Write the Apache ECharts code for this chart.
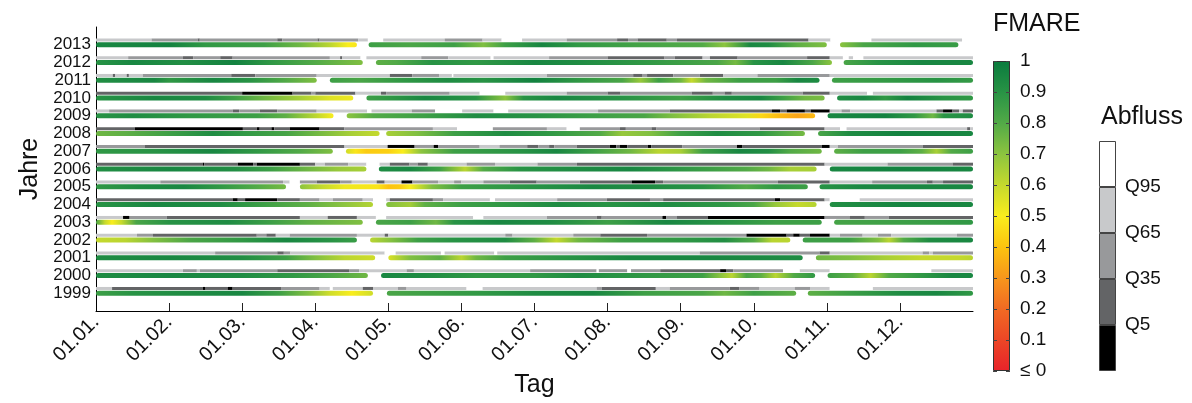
<!DOCTYPE html>
<html>
<head>
<meta charset="utf-8">
<script src="https://cdn.jsdelivr.net/npm/echarts@6/dist/echarts.min.js"></script>
<style>
  html, body { margin: 0; padding: 0; background: #fff; }
  #chart { width: 1192px; height: 403px; }
</style>
</head>
<body>
<div id="chart"></div>
<script>
// x-Werte in Monaten ab 01.01. (0 = 01.01., 12 = Jahresende)
const years = [1999, 2000, 2001, 2002, 2003, 2004, 2005, 2006, 2007, 2008, 2009, 2010, 2011, 2012, 2013];
const monthLabels = ['01.01.', '01.02.', '01.03.', '01.04.', '01.05.', '01.06.', '01.07.', '01.08.', '01.09.', '01.10.', '01.11.', '01.12.'];
const abflussLabels = ['Q5', 'Q35', 'Q65', 'Q95'];
const abflussColors = ['#000000', '#636466', '#98999b', '#c8c9cb', '#ffffff'];
const fmareStops = [[0, '#e8232a'], [0.1, '#ec4626'], [0.2, '#f16a23'], [0.3, '#f7961c'], [0.4, '#fcc30f'],
  [0.5, '#f9ed1d'], [0.6, '#c5d92d'], [0.7, '#8cc43f'], [0.8, '#52aa47'], [0.9, '#289345'], [1, '#0a7b3e']];

// FMARE: je Jahr Abschnitte aus [Monat, Wert]
const fmare1999 = [
  [[0, 0.85], [0.5, 0.9], [1.2, 0.93], [2.0, 0.95], [2.5, 0.85], [2.9, 0.72], [3.2, 0.58], [3.5, 0.5], [3.79, 0.58]],
  [[3.98, 0.82], [4.6, 0.85], [5.3, 0.88], [6.0, 0.93], [6.8, 0.95], [7.5, 0.85], [8.3, 0.82], [8.6, 0.75], [9.0, 0.85], [9.58, 0.78]],
  [[9.74, 0.78], [10.3, 0.85], [11.0, 0.93], [11.5, 0.95], [12.0, 0.88]]
];
const fmare2000 = [
  [[0, 0.93], [1.0, 0.95], [2.0, 0.93], [2.7, 0.88], [3.2, 0.82], [3.72, 0.75]],
  [[3.9, 0.95], [4.5, 0.93], [5.2, 0.88], [6.0, 0.88], [6.6, 0.93], [7.5, 0.88], [8.3, 0.85], [8.55, 0.7], [8.7, 0.62], [8.9, 0.82], [9.1, 0.78], [9.3, 0.62], [9.55, 0.8], [9.84, 0.88]],
  [[10.01, 0.85], [10.35, 0.78], [10.6, 0.62], [10.85, 0.8], [11.3, 0.88], [11.7, 0.95], [12.0, 0.95]]
];
const fmare2001 = [
  [[0, 0.93], [1.0, 0.95], [2.0, 0.92], [2.6, 0.85], [3.0, 0.72], [3.4, 0.62], [3.82, 0.58]],
  [[4.0, 0.56], [4.3, 0.72], [4.7, 0.78], [5.0, 0.62], [5.2, 0.75], [5.6, 0.85], [6.5, 0.9], [7.3, 0.95], [8.5, 0.95], [9.67, 0.93]],
  [[9.85, 0.75], [10.3, 0.72], [10.8, 0.65], [11.3, 0.6], [11.8, 0.6], [12.0, 0.62]]
];
const fmare2002 = [
  [[0, 0.6], [0.4, 0.62], [0.8, 0.72], [1.3, 0.82], [2.0, 0.88], [2.6, 0.95], [3.2, 0.9], [3.57, 0.86]],
  [[3.75, 0.62], [4.0, 0.7], [4.4, 0.85], [4.9, 0.9], [5.6, 0.93], [6.0, 0.78], [6.3, 0.6], [6.6, 0.75], [7.2, 0.85], [8.0, 0.88], [8.6, 0.92], [9.0, 0.8], [9.25, 0.62], [9.5, 0.62]],
  [[9.67, 0.85], [10.3, 0.85], [10.7, 0.72], [10.85, 0.62], [11.05, 0.8], [11.4, 0.93], [12.0, 0.95]]
];
const fmare2003 = [
  [[0, 0.82], [0.12, 0.6], [0.22, 0.5], [0.35, 0.6], [0.55, 0.82], [1.0, 0.9], [1.8, 0.93], [2.4, 0.85], [2.9, 0.78], [3.65, 0.72]],
  [[3.83, 0.82], [4.3, 0.85], [4.65, 0.75], [4.9, 0.9], [5.5, 0.95], [6.2, 0.93], [7.0, 0.85], [7.8, 0.95], [8.6, 0.9], [9.3, 0.85], [9.93, 0.85]],
  [[10.1, 0.83], [11.0, 0.85], [12.0, 0.88]]
];
const fmare2004 = [
  [[0, 0.9], [0.8, 0.95], [1.7, 0.93], [2.3, 0.85], [2.9, 0.78], [3.4, 0.7], [3.79, 0.63]],
  [[3.97, 0.72], [4.3, 0.66], [4.5, 0.78], [5.0, 0.85], [5.6, 0.88], [6.3, 0.93], [7.0, 0.9], [7.8, 0.93], [8.6, 0.88], [9.0, 0.82], [9.3, 0.68], [9.6, 0.6], [9.86, 0.63]],
  [[10.04, 0.92], [11.0, 0.96], [12.0, 0.95]]
];
const fmare2005 = [
  [[0, 0.88], [0.6, 0.93], [1.2, 0.95], [1.7, 0.88], [2.2, 0.8], [2.6, 0.74]],
  [[2.79, 0.7], [3.1, 0.6], [3.4, 0.52], [3.85, 0.48], [4.0, 0.4], [4.15, 0.42], [4.3, 0.5], [4.6, 0.72], [5.0, 0.85], [6.0, 0.9], [6.8, 0.95], [7.6, 0.93], [8.3, 0.9], [8.9, 0.8], [9.3, 0.88], [9.74, 0.85]],
  [[9.9, 0.9], [10.5, 0.95], [12.0, 0.95]]
];
const fmare2006 = [
  [[0, 0.92], [1.0, 0.95], [1.9, 0.92], [2.4, 0.85], [2.9, 0.75], [3.3, 0.68], [3.7, 0.65]],
  [[3.87, 0.93], [4.3, 0.95], [4.7, 0.85], [5.05, 0.62], [5.3, 0.8], [5.8, 0.9], [6.5, 0.93], [7.3, 0.95], [7.8, 0.9], [8.4, 0.85], [8.9, 0.8], [9.2, 0.75], [9.5, 0.65], [9.86, 0.65]],
  [[10.04, 0.95], [11.0, 0.97], [12.0, 0.95]]
];
const fmare2007 = [
  [[0, 0.88], [0.8, 0.9], [1.6, 0.95], [2.2, 0.88], [2.8, 0.8], [3.24, 0.72]],
  [[3.42, 0.58], [3.55, 0.48], [3.7, 0.42], [4.0, 0.43], [4.2, 0.5], [4.45, 0.7], [4.9, 0.85], [5.8, 0.9], [6.3, 0.95], [6.8, 0.85], [7.3, 0.75], [7.7, 0.62], [8.0, 0.65], [8.3, 0.85], [8.8, 0.95], [9.2, 0.92], [9.5, 0.8], [9.93, 0.75]],
  [[10.1, 0.78], [10.5, 0.85], [11.0, 0.85], [11.3, 0.78], [11.5, 0.65], [11.7, 0.8], [12.0, 0.85]]
];
const fmare2008 = [
  [[0, 0.75], [0.4, 0.78], [1.0, 0.85], [1.6, 0.93], [2.0, 0.88], [2.6, 0.83], [3.0, 0.75], [3.5, 0.65], [3.88, 0.6]],
  [[3.97, 0.65], [4.4, 0.72], [4.9, 0.85], [5.6, 0.93], [6.2, 0.88], [6.9, 0.8], [7.2, 0.68], [7.6, 0.72], [8.0, 0.85], [8.5, 0.93], [9.1, 0.88], [9.4, 0.8], [9.7, 0.74]],
  [[9.88, 0.82], [10.3, 0.93], [11.0, 0.97], [12.0, 0.95]]
];
const fmare2009 = [
  [[0, 0.9], [0.5, 0.93], [1.3, 0.88], [2.2, 0.85], [2.6, 0.78], [3.0, 0.62], [3.25, 0.5]],
  [[3.43, 0.7], [3.8, 0.8], [4.5, 0.85], [5.2, 0.93], [6.0, 0.9], [6.8, 0.85], [7.5, 0.82], [7.9, 0.72], [8.4, 0.62], [8.9, 0.55], [9.1, 0.45], [9.35, 0.38], [9.6, 0.33], [9.84, 0.38]],
  [[10.01, 0.95], [10.8, 0.97], [11.2, 0.88], [11.45, 0.75], [11.6, 0.9], [12.0, 0.93]]
];
const fmare2010 = [
  [[0, 0.9], [0.8, 0.95], [1.5, 0.93], [1.9, 0.85], [2.3, 0.75], [2.8, 0.65], [3.2, 0.55], [3.52, 0.52]],
  [[3.7, 0.85], [4.0, 0.88], [4.5, 0.95], [5.2, 0.9], [5.6, 0.7], [5.85, 0.9], [6.3, 0.95], [7.2, 0.9], [8.0, 0.85], [8.6, 0.93], [9.1, 0.95], [9.4, 0.85], [9.7, 0.75], [9.97, 0.73]],
  [[10.14, 0.92], [10.5, 0.95], [10.8, 0.88], [11.1, 0.97], [11.6, 0.9], [12.0, 0.88]]
];
const fmare2011 = [
  [[0, 0.92], [0.8, 0.95], [1.0, 0.88], [1.6, 0.95], [2.1, 0.9], [2.6, 0.8], [3.02, 0.72]],
  [[3.2, 0.85], [3.6, 0.82], [4.2, 0.88], [4.8, 0.93], [5.3, 0.9], [6.0, 0.97], [6.6, 0.88], [7.2, 0.82], [7.45, 0.68], [7.7, 0.85], [8.0, 0.75], [8.15, 0.6], [8.35, 0.75], [8.8, 0.85], [9.3, 0.85], [9.6, 0.95], [9.9, 0.93]],
  [[10.07, 0.85], [11.0, 0.88], [11.5, 0.9], [12.0, 0.87]]
];
const fmare2012 = [
  [[0, 0.9], [0.5, 0.95], [1.2, 0.92], [1.9, 0.97], [2.4, 0.88], [3.0, 0.8], [3.65, 0.72]],
  [[3.83, 0.78], [4.1, 0.8], [4.6, 0.9], [5.2, 0.88], [6.0, 0.95], [6.6, 0.93], [7.5, 0.88], [8.5, 0.82], [8.75, 0.74], [9.0, 0.9], [9.4, 0.95], [9.8, 0.82], [10.07, 0.7]],
  [[10.23, 0.82], [10.7, 0.9], [11.3, 0.95], [12.0, 0.95]]
];
const fmare2013 = [
  [[0, 0.95], [1.0, 0.97], [1.5, 0.88], [2.3, 0.85], [2.8, 0.75], [3.2, 0.62], [3.45, 0.5], [3.57, 0.48]],
  [[3.73, 0.85], [4.3, 0.82], [4.9, 0.85], [5.3, 0.72], [5.6, 0.85], [6.1, 0.96], [6.6, 0.88], [7.5, 0.83], [8.3, 0.8], [8.6, 0.7], [8.95, 0.95], [9.2, 0.93], [9.6, 0.78], [10.0, 0.72]],
  [[10.18, 0.7], [10.5, 0.82], [11.2, 0.88], [11.8, 0.86]]
];

// Abfluss: je Jahr [Beginn, Klasse] (0 = <Q5 ... 4 = >Q95), letzter Eintrag = Ende
const abfluss1999 = [[0, 3], [0.22, 1], [1.46, 0], [1.5, 1], [1.8, 0], [1.87, 1], [2.54, 2], [3.06, 3], [3.2, 4], [3.24, 3], [3.65, 1], [3.79, 3], [4.13, 2], [4.25, 3], [5.07, 4], [5.29, 3], [6.85, 2], [6.92, 1], [7.66, 3], [7.85, 2], [8.67, 1], [8.8, 2], [9.08, 3], [9.56, 2], [9.77, 3], [10.04, 4], [10.63, 3], [12]];
const abfluss2000 = [[0, 3], [1.19, 2], [1.38, 3], [1.42, 2], [2.48, 1], [3.47, 2], [3.6, 3], [4.25, 2], [4.35, 3], [5.94, 2], [6.85, 4], [6.88, 2], [7.27, 4], [7.32, 2], [7.72, 1], [8.54, 0], [8.62, 1], [8.72, 2], [9.4, 4], [9.63, 3], [10.04, 4], [11.43, 3], [12]];
const abfluss2001 = [[0, 3], [1.63, 2], [2.48, 1], [2.57, 2], [2.66, 3], [3.95, 4], [4.1, 3], [4.72, 4], [4.77, 3], [5.45, 4], [5.49, 3], [8.26, 2], [9.9, 1], [10.04, 3], [11.31, 2], [11.4, 3], [11.45, 2], [12]];
const abfluss2002 = [[0, 3], [0.56, 2], [0.78, 1], [2.2, 2], [2.33, 1], [2.46, 3], [2.65, 2], [3.57, 3], [3.95, 1], [4.0, 3], [5.6, 2], [5.7, 3], [6.53, 2], [6.9, 1], [7.54, 2], [8.9, 0], [9.45, 1], [9.54, 0], [9.63, 1], [9.77, 0], [10.04, 3], [10.18, 2], [10.49, 3], [10.7, 2], [10.88, 3], [11.78, 2], [12]];
const abfluss2003 = [[0, 3], [0.37, 0], [0.46, 2], [0.97, 1], [2.79, 3], [3.17, 1], [3.57, 3], [3.83, 4], [3.97, 3], [5.16, 4], [5.3, 3], [6.17, 2], [6.85, 1], [6.92, 2], [7.75, 0], [7.8, 2], [7.95, 1], [8.37, 0], [9.97, 2], [10.31, 1], [10.52, 2], [10.85, 1], [12]];
const abfluss2004 = [[0, 1], [1.87, 0], [1.94, 1], [2.04, 0], [2.48, 1], [2.79, 2], [3.06, 3], [3.24, 2], [3.65, 3], [3.79, 4], [3.97, 3], [4.02, 1], [4.61, 2], [4.75, 3], [5.39, 4], [5.46, 3], [6.31, 2], [6.99, 1], [7.58, 2], [7.76, 1], [9.29, 0], [9.36, 1], [9.97, 3], [10.04, 4], [10.45, 3], [12]];
const abfluss2005 = [[0, 3], [0.88, 2], [2.56, 3], [2.65, 4], [2.79, 2], [3.02, 1], [3.34, 2], [3.5, 3], [3.84, 1], [3.95, 3], [4.18, 0], [4.33, 2], [4.68, 3], [4.9, 2], [5.0, 3], [5.3, 2], [5.66, 1], [6.03, 2], [6.62, 1], [7.33, 0], [7.65, 1], [7.76, 2], [9.33, 1], [10.04, 3], [10.62, 2], [11.37, 1], [11.45, 2], [11.59, 1], [12]];
const abfluss2006 = [[0, 1], [1.46, 0], [1.48, 1], [1.94, 0], [2.15, 1], [2.2, 0], [2.79, 1], [3.0, 3], [3.13, 2], [3.45, 3], [3.7, 4], [3.88, 3], [4.02, 1], [4.29, 2], [4.4, 1], [4.54, 3], [5.07, 2], [5.46, 3], [6.04, 2], [6.58, 1], [9.97, 3], [10.83, 2], [11.72, 1], [12]];
const abfluss2007 = [[0, 2], [0.67, 1], [3.4, 3], [3.99, 0], [4.36, 2], [4.62, 0], [4.68, 2], [5.25, 3], [5.52, 2], [5.9, 1], [6.05, 2], [6.2, 1], [6.27, 2], [6.58, 1], [7.03, 0], [7.12, 1], [7.17, 0], [7.27, 1], [7.55, 0], [7.6, 1], [8.02, 2], [8.77, 0], [8.84, 1], [9.93, 0], [10.04, 3], [10.15, 2], [11.31, 1], [12]];
const abfluss2008 = [[0, 1], [0.53, 0], [2.01, 1], [2.2, 0], [2.24, 1], [2.4, 0], [2.44, 1], [2.65, 0], [3.06, 1], [3.4, 2], [4.61, 3], [4.94, 4], [5.43, 2], [6.17, 3], [6.44, 4], [6.62, 2], [7.17, 1], [7.25, 2], [7.6, 1], [7.67, 2], [9.08, 1], [9.97, 3], [10.18, 4], [10.27, 3], [11.92, 1], [11.96, 3], [12]];
const abfluss2009 = [[0, 3], [0.18, 2], [1.87, 1], [1.96, 2], [2.24, 1], [2.48, 2], [3.02, 3], [3.71, 4], [3.77, 3], [4.32, 2], [4.64, 4], [5.01, 3], [5.44, 4], [5.64, 3], [6.87, 2], [7.85, 1], [9.25, 0], [9.36, 1], [9.45, 0], [9.7, 1], [9.78, 0], [10.04, 3], [10.2, 2], [10.32, 3], [11.5, 1], [11.59, 0], [11.72, 1], [11.81, 3], [11.86, 1], [12]];
const abfluss2010 = [[0, 1], [2.0, 0], [2.69, 1], [2.95, 2], [3.0, 1], [3.55, 3], [3.9, 1], [3.97, 2], [4.84, 3], [5.25, 4], [5.6, 3], [6.44, 2], [7.0, 1], [7.17, 2], [8.15, 1], [8.44, 2], [8.6, 1], [8.7, 2], [9.67, 1], [10.04, 3], [10.55, 4], [10.63, 3], [12]];
const abfluss2011 = [[0, 3], [0.23, 1], [0.26, 3], [0.42, 1], [0.45, 3], [0.64, 2], [1.85, 1], [2.18, 2], [3.02, 3], [4.02, 1], [4.33, 2], [4.7, 3], [4.87, 4], [4.89, 3], [6.17, 2], [7.35, 1], [7.48, 2], [7.54, 1], [7.9, 2], [8.26, 1], [8.58, 3], [9.05, 2], [10.04, 3], [12]];
const abfluss2012 = [[0, 3], [0.44, 2], [1.19, 1], [1.33, 2], [1.7, 1], [1.87, 2], [3.2, 3], [3.34, 1], [3.37, 3], [3.62, 4], [3.7, 3], [4.45, 2], [4.82, 3], [5.4, 4], [5.44, 3], [6.2, 2], [7.0, 1], [7.78, 2], [7.92, 1], [8.3, 3], [8.4, 1], [8.78, 2], [9.73, 1], [10.04, 3], [10.22, 4], [10.3, 3], [10.36, 4], [10.5, 3], [12]];
const abfluss2013 = [[0, 3], [0.76, 2], [1.39, 1], [1.42, 2], [2.48, 1], [2.55, 2], [3.03, 1], [3.06, 2], [3.59, 3], [3.72, 4], [3.93, 3], [4.77, 2], [5.29, 3], [5.55, 4], [5.83, 3], [6.44, 2], [7.13, 1], [7.28, 2], [7.41, 1], [7.81, 2], [7.95, 1], [9.75, 3], [10.05, 4], [10.61, 3], [11.85]];

const fmareRows = [fmare1999, fmare2000, fmare2001, fmare2002, fmare2003, fmare2004, fmare2005, fmare2006, fmare2007, fmare2008, fmare2009, fmare2010, fmare2011, fmare2012, fmare2013];
const abflussRows = [abfluss1999, abfluss2000, abfluss2001, abfluss2002, abfluss2003, abfluss2004, abfluss2005, abfluss2006, abfluss2007, abfluss2008, abfluss2009, abfluss2010, abfluss2011, abfluss2012, abfluss2013];

function hexToRgb(h) {
  return [parseInt(h.slice(1, 3), 16), parseInt(h.slice(3, 5), 16), parseInt(h.slice(5, 7), 16)];
}
function fmareColor(v) {
  v = Math.max(0, Math.min(1, v));
  for (let i = 1; i < fmareStops.length; i++) {
    if (v <= fmareStops[i][0]) {
      const a = hexToRgb(fmareStops[i - 1][1]), b = hexToRgb(fmareStops[i][1]);
      const t = (v - fmareStops[i - 1][0]) / (fmareStops[i][0] - fmareStops[i - 1][0]);
      return 'rgb(' + a.map((c, k) => Math.round(c + (b[k] - c) * t)).join(',') + ')';
    }
  }
  return fmareStops[fmareStops.length - 1][1];
}

// Datenpunkte für die Serien aufbauen
const fmareSegs = [];
const abflussRuns = [];
years.forEach((yr, i) => {
  fmareRows[i].forEach(seg => fmareSegs.push({ year: yr, pts: seg }));
  const r = abflussRows[i];
  for (let k = 0; k < r.length - 1; k++) abflussRuns.push([r[k][0], yr, r[k + 1][0], r[k][1]]);
});

const chart = echarts.init(document.getElementById('chart'));
const txt = '#111';

const option = {
  animation: false,
  textStyle: { fontFamily: 'Liberation Sans, Arial, sans-serif' },
  title: [
    { text: 'FMARE', left: 993, top: 12, padding: 0, textStyle: { fontSize: 25, fontWeight: 'normal', color: txt } },
    { text: 'Abfluss', left: 1101, top: 105, padding: 0, textStyle: { fontSize: 25, fontWeight: 'normal', color: txt } }
  ],
  grid: [
    { left: 96, top: 27, width: 877, height: 284, outerBoundsMode: 'none' },
    { left: 993, top: 61, width: 17, height: 310, outerBoundsMode: 'none' },
    { left: 1099, top: 141, width: 17, height: 230, outerBoundsMode: 'none' }
  ],
  xAxis: [
    {
      gridIndex: 0, type: 'value', min: 0, max: 12, interval: 1,
      name: 'Tag', nameLocation: 'middle', nameGap: 62,
      nameTextStyle: { fontSize: 25, color: txt },
      axisLine: { lineStyle: { color: '#000', width: 1 } },
      axisTick: { inside: true, length: 8, lineStyle: { color: '#222' }, customValues: [1, 2, 3, 4, 5, 6, 7, 8, 9, 10, 11] },
      splitLine: { show: false },
      axisLabel: {
        rotate: 45, fontSize: 20, color: txt, margin: 8,
        customValues: [0, 1, 2, 3, 4, 5, 6, 7, 8, 9, 10, 11],
        formatter: v => monthLabels[Math.round(v)] || ''
      }
    },
    { gridIndex: 1, type: 'category', data: ['FMARE'], show: false },
    { gridIndex: 2, type: 'category', data: ['Abfluss'], show: false }
  ],
  yAxis: [
    {
      gridIndex: 0, type: 'value', min: 1998, max: 2014, interval: 1,
      name: 'Jahre', nameLocation: 'middle', nameGap: 50,
      nameTextStyle: { fontSize: 25, color: txt },
      axisLine: { show: true, lineStyle: { color: '#000', width: 1 } },
      axisTick: { show: false },
      splitLine: { show: false },
      axisLabel: { fontSize: 17, color: txt, margin: 5, formatter: v => (v > 1998 && v < 2014) ? String(v) : '' }
    },
    {
      gridIndex: 1, type: 'value', min: 0, max: 1, interval: 0.1, position: 'left', z: 5,
      axisLine: { show: false }, splitLine: { show: false }, axisLabel: { show: false },
      axisTick: { show: true, inside: true, length: 4, lineStyle: { color: '#444' } }
    },
    {
      gridIndex: 1, type: 'value', min: 0, max: 1, interval: 0.1, position: 'right', z: 5,
      axisLine: { show: false }, splitLine: { show: false },
      axisTick: { show: true, inside: true, length: 4, lineStyle: { color: '#444' } },
      axisLabel: {
        fontSize: 19, color: txt, margin: 10,
        formatter: v => {
          const r = Math.round(v * 10) / 10;
          return r === 0 ? '≤ 0' : (r === 1 ? '1' : r.toFixed(1));
        }
      }
    },
    {
      gridIndex: 2, type: 'value', min: 0, max: 5, interval: 1, position: 'right',
      axisLine: { show: false }, axisTick: { show: false }, splitLine: { show: false },
      axisLabel: {
        fontSize: 19, color: txt, margin: 9, padding: [7, 0, 0, 0],
        formatter: v => abflussLabels[v - 1] || ''
      }
    }
  ],
  series: [
    {
      name: 'Abfluss', type: 'custom', xAxisIndex: 0, yAxisIndex: 0,
      encode: { x: [0, 2], y: 1 }, clip: false,
      data: abflussRuns,
      renderItem: (params, api) => {
        const p0 = api.coord([api.value(0), api.value(1)]);
        const p1 = api.coord([api.value(2), api.value(1)]);
        return {
          type: 'rect',
          shape: { x: p0[0], y: p0[1] - 6.3, width: p1[0] - p0[0], height: 3 },
          style: { fill: abflussColors[api.value(3)] }
        };
      }
    },
    {
      name: 'FMARE', type: 'custom', xAxisIndex: 0, yAxisIndex: 0,
      encode: { x: [0, 2], y: 1 }, clip: false,
      data: fmareSegs.map(s => [s.pts[0][0], s.year, s.pts[s.pts.length - 1][0]]),
      renderItem: (params, api) => {
        const pts = fmareSegs[params.dataIndex].pts;
        const x0 = pts[0][0], x1 = pts[pts.length - 1][0];
        const p0 = api.coord([x0, api.value(1)]);
        const p1 = api.coord([x1, api.value(1)]);
        const stops = pts.map(d => ({ offset: (d[0] - x0) / (x1 - x0), color: fmareColor(d[1]) }));
        return {
          type: 'rect',
          shape: { x: p0[0], y: p0[1] - 2.5, width: p1[0] - p0[0], height: 5, r: 2.5 },
          style: { fill: new echarts.graphic.LinearGradient(0, 0, 1, 0, stops) }
        };
      }
    },
    {
      name: 'Farbskala', type: 'bar', xAxisIndex: 1, yAxisIndex: 1,
      barWidth: '100%', data: [1],
      itemStyle: {
        borderColor: '#333', borderWidth: 1,
        color: new echarts.graphic.LinearGradient(0, 1, 0, 0, fmareStops.map(s => ({ offset: s[0], color: s[1] })))
      }
    }
  ].concat(abflussColors.map((c, i) => ({
    name: 'Klasse' + i, type: 'bar', xAxisIndex: 2, yAxisIndex: 3, stack: 'abfluss',
    barWidth: '100%', data: [1],
    itemStyle: { color: c, borderColor: '#444', borderWidth: 1 }
  })))
};

chart.setOption(option);
</script>
</body>
</html>
